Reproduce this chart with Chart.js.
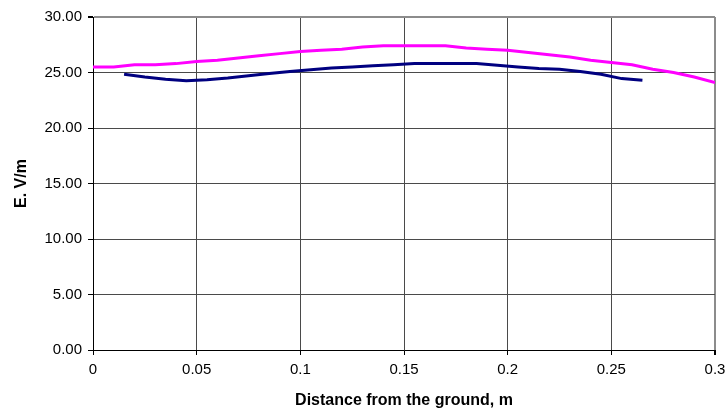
<!DOCTYPE html>
<html>
<head>
<meta charset="utf-8">
<title>E field vs distance</title>
<script src="https://cdn.jsdelivr.net/npm/chart.js@4/dist/chart.umd.min.js"></script>
<style>
  html, body { margin: 0; padding: 0; background: #fff; }
  #wrap { width: 727px; height: 414px; }
</style>
</head>
<body>
<div id="wrap"><canvas id="fieldChart" width="727" height="414"></canvas></div>
<script>
// distance from the ground, m
const upperX = [0, 0.01, 0.02, 0.03, 0.04, 0.05, 0.06, 0.07, 0.08, 0.09, 0.10,
  0.11, 0.12, 0.13, 0.14, 0.15, 0.16, 0.17, 0.18, 0.19, 0.20,
  0.21, 0.22, 0.23, 0.24, 0.25, 0.26, 0.27, 0.28, 0.29, 0.30];
// field strength, V/m (magenta curve)
const upperE = [25.5, 25.5, 25.7, 25.7, 25.8, 26.0, 26.1, 26.3, 26.5, 26.7, 26.9,
  27.0, 27.1, 27.3, 27.4, 27.4, 27.4, 27.4, 27.2, 27.1, 27.0,
  26.8, 26.6, 26.4, 26.1, 25.9, 25.7, 25.3, 25.0, 24.6, 24.1];

const lowerX = [0.015, 0.025, 0.035, 0.045, 0.055, 0.065, 0.075, 0.085, 0.095, 0.105,
  0.115, 0.125, 0.135, 0.145, 0.155, 0.165, 0.175, 0.185, 0.195, 0.205,
  0.215, 0.225, 0.235, 0.245, 0.255, 0.265];
// field strength, V/m (navy curve)
const lowerE = [24.85, 24.6, 24.4, 24.25, 24.35, 24.5, 24.7, 24.9, 25.1, 25.25,
  25.4, 25.5, 25.6, 25.7, 25.8, 25.8, 25.8, 25.8, 25.65, 25.5,
  25.35, 25.3, 25.1, 24.85, 24.45, 24.3];

const xTicks = [0, 0.05, 0.1, 0.15, 0.2, 0.25, 0.3];

const pairs = (xs, ys) => xs.map((x, i) => ({ x: x, y: ys[i] }));

const font = "'Liberation Sans', Arial, sans-serif";
Chart.defaults.font.family = font;
Chart.defaults.color = '#000';

new Chart(document.getElementById('fieldChart'), {
  type: 'line',
  data: {
    datasets: [
      {
        data: pairs(upperX, upperE),
        borderColor: '#ff00ff',
        borderWidth: 3,
        pointRadius: 0,
        tension: 0
      },
      {
        data: pairs(lowerX, lowerE),
        borderColor: '#000080',
        borderWidth: 3,
        pointRadius: 0,
        tension: 0
      }
    ]
  },
  options: {
    responsive: false,
    animation: false,
    layout: { padding: { top: 17, right: 12, left: 12, bottom: 0 } },
    plugins: { legend: { display: false }, tooltip: { enabled: false } },
    scales: {
      x: {
        type: 'linear',
        min: 0,
        max: 0.3,
        afterBuildTicks: axis => { axis.ticks = xTicks.map(v => ({ value: v })); },
        afterFit: axis => {
          axis.height = 64;
          // let the last label run past the plot edge
          axis.paddingRight = 0;
          axis.paddingLeft = 0;
        },
        ticks: {
          font: { size: 15 },
          padding: 6,
          maxRotation: 0,
          callback: v => String(parseFloat(v.toFixed(2)))
        },
        grid: {
          color: ctx => ctx.tick && ctx.tick.value === 0.3 ? '#8c8c8c' : '#4a4a4a',
          lineWidth: ctx => ctx.tick && ctx.tick.value === 0.3 ? 2 : 1,
          tickColor: '#000',
          tickLength: 5
        },
        border: { color: '#000', width: 1 },
        title: {
          display: true,
          text: 'Distance from the ground, m',
          font: { size: 16, weight: 'bold' },
          padding: { top: 4, bottom: 4 }
        }
      },
      y: {
        min: 0,
        max: 30,
        afterFit: axis => { axis.width = 81; },
        ticks: {
          stepSize: 5,
          font: { size: 15 },
          padding: 6,
          callback: v => v.toFixed(2)
        },
        grid: {
          color: ctx => ctx.tick && ctx.tick.value === 30 ? '#8c8c8c' : '#4a4a4a',
          lineWidth: ctx => ctx.tick && ctx.tick.value === 30 ? 2 : 1,
          tickColor: '#000',
          tickLength: 5
        },
        border: { color: '#000', width: 1 },
        title: {
          display: true,
          text: 'E. V/m',
          font: { size: 16, weight: 'bold' },
          padding: { top: 0, bottom: 0 }
        }
      }
    }
  }
});
</script>
</body>
</html>
